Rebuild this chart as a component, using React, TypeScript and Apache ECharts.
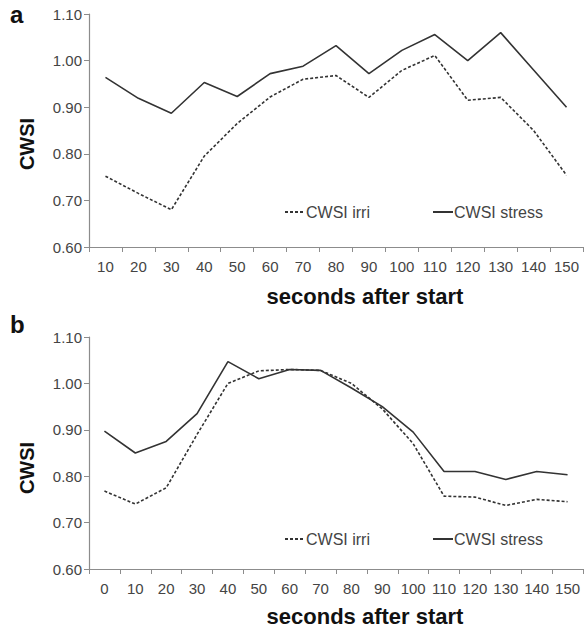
import React, { useEffect, useRef } from "react";
import * as echarts from "echarts";

const catsA = ["10", "20", "30", "40", "50", "60", "70", "80", "90", "100", "110", "120", "130", "140", "150"];
const irriA = [0.752, 0.715, 0.68, 0.795, 0.865, 0.922, 0.96, 0.968, 0.921, 0.979, 1.011, 0.915, 0.921, 0.85, 0.754];
const stressA = [0.964, 0.919, 0.887, 0.953, 0.923, 0.972, 0.988, 1.032, 0.972, 1.022, 1.056, 1.0, 1.06, 0.98, 0.9];

const catsB = ["0", "10", "20", "30", "40", "50", "60", "70", "80", "90", "100", "110", "120", "130", "140", "150"];
const irriB = [0.768, 0.74, 0.775, 0.89, 1.0, 1.027, 1.03, 1.028, 1.0, 0.945, 0.87, 0.757, 0.755, 0.737, 0.75, 0.745];
const stressB = [0.897, 0.85, 0.875, 0.935, 1.047, 1.01, 1.03, 1.028, 0.99, 0.95, 0.895, 0.81, 0.81, 0.793, 0.81, 0.803];

const FONT = "Liberation Sans, Arial, sans-serif";
const AXIS = "#8c8c8c";
const TXT = "#444";

function xAxisCfg(cats: string[], idx: number) {
  return {
    type: "category",
    gridIndex: idx,
    data: cats,
    boundaryGap: true,
    axisLine: { lineStyle: { color: AXIS, width: 1.2 } },
    axisTick: { show: true, length: 5, interval: 0, lineStyle: { color: AXIS } },
    axisLabel: { color: TXT, fontSize: 15, fontFamily: FONT, margin: 12, interval: 0 },
    splitLine: { show: false },
  };
}
function yAxisCfg(idx: number) {
  return {
    type: "value",
    gridIndex: idx,
    min: 0.6,
    max: 1.1,
    interval: 0.1,
    axisLine: { show: true, lineStyle: { color: AXIS, width: 1.2 } },
    axisTick: { show: true, length: 5, lineStyle: { color: AXIS } },
    axisLabel: { color: TXT, fontSize: 15, fontFamily: FONT, margin: 7, formatter: (v: number) => v.toFixed(2) },
    splitLine: { show: false },
  };
}

export default function App() {
  const ref = useRef<HTMLDivElement>(null);
  useEffect(() => {
    const chart = echarts.init(ref.current!, null, { renderer: "svg" });
    const dashed = { color: "#333", width: 1.6, type: [3, 2] as any };
    const solid = { color: "#333", width: 1.6, type: "solid" as any };
    const legendBase = {
      left: 284, itemWidth: 20, itemHeight: 10, itemGap: 62, padding: 0,
      itemStyle: { opacity: 0 },
      textStyle: { fontSize: 16, color: TXT, fontFamily: FONT, padding: [0, 0, 0, -4] },
    };
    chart.setOption({
      animation: false,
      backgroundColor: "#fff",
      grid: [
        { left: 89, top: 14, width: 494, height: 233 },
        { left: 89, top: 337, width: 494, height: 232 },
      ],
      xAxis: [xAxisCfg(catsA, 0), xAxisCfg(catsB, 1)],
      yAxis: [yAxisCfg(0), yAxisCfg(1)],
      legend: [
        { ...legendBase, top: 204, data: ["CWSI irri", "CWSI stress"] },
        { ...legendBase, top: 531, data: ["CWSI irri ", "CWSI stress "], formatter: (n: string) => n.trim() },
      ],
      series: [
        { name: "CWSI irri", type: "line", xAxisIndex: 0, yAxisIndex: 0, data: irriA, symbol: "none", lineStyle: dashed, itemStyle: { color: "#333" } },
        { name: "CWSI stress", type: "line", xAxisIndex: 0, yAxisIndex: 0, data: stressA, symbol: "none", lineStyle: solid, itemStyle: { color: "#333" } },
        { name: "CWSI irri ", type: "line", xAxisIndex: 1, yAxisIndex: 1, data: irriB, symbol: "none", lineStyle: dashed, itemStyle: { color: "#333" } },
        { name: "CWSI stress ", type: "line", xAxisIndex: 1, yAxisIndex: 1, data: stressB, symbol: "none", lineStyle: solid, itemStyle: { color: "#333" } },
      ],
      graphic: [
        { type: "text", left: 10, top: 2, style: { text: "a", font: "bold 24px " + FONT, fill: "#111" } },
        { type: "text", left: 10, top: 312, style: { text: "b", font: "bold 24px " + FONT, fill: "#111" } },
        { type: "text", x: 27, y: 144, rotation: Math.PI / 2, style: { text: "CWSI", font: "bold 20px " + FONT, fill: "#111", align: "center", verticalAlign: "middle" } },
        { type: "text", x: 27, y: 468, rotation: Math.PI / 2, style: { text: "CWSI", font: "bold 20px " + FONT, fill: "#111", align: "center", verticalAlign: "middle" } },
        { type: "text", x: 365, y: 296, style: { text: "seconds after start", font: "bold 22px " + FONT, fill: "#111", align: "center", verticalAlign: "middle" } },
        { type: "text", x: 365, y: 616, style: { text: "seconds after start", font: "bold 22px " + FONT, fill: "#111", align: "center", verticalAlign: "middle" } },
      ],
    });
    return () => chart.dispose();
  }, []);
  return <div ref={ref} style={{ width: 588, height: 629, position: "absolute", left: 0, top: 0 }} />;
}
